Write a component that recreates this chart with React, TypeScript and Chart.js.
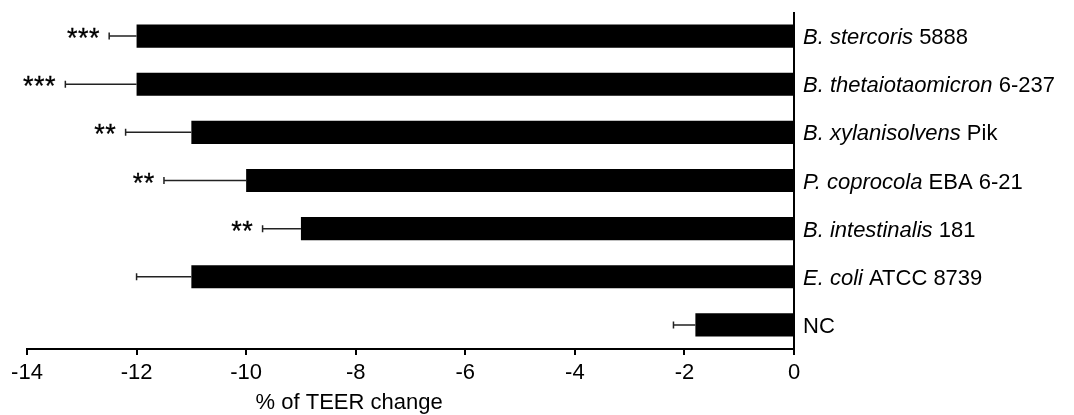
import { useEffect, useRef } from 'react';
import { Chart, registerables } from 'chart.js';

Chart.register(...registerables);

const italicNames = ['B. stercoris', 'B. thetaiotaomicron', 'B. xylanisolvens', 'P. coprocola', 'B. intestinalis', 'E. coli', ''];
const strainNames = ['5888', '6-237', 'Pik', 'EBA 6-21', '181', 'ATCC 8739', 'NC'];
const categories = italicNames.map((n, i) => (n ? n + ' ' : '') + strainNames[i]);
const teerChange = [-12.0, -12.0, -11.0, -10.0, -9.0, -11.0, -1.8];
const errorSD = [0.5, 1.3, 1.2, 1.5, 0.7, 1.0, 0.4];
const significance = ['***', '***', '**', '**', '**', '', ''];
const xMin = -14;
const xMax = 0;
const xStep = 2;
const axisTitle = '% of TEER change';

const FONT = '"Liberation Sans", Arial, sans-serif';

const overlayPlugin = {
  id: 'overlay',
  afterDatasetsDraw(chart: any) {
    const ctx = chart.ctx;
    const xs = chart.scales.x;
    const ys = chart.scales.y;
    const area = chart.chartArea;
    ctx.save();
    // vertical axis line at zero
    const x0 = xs.getPixelForValue(0);
    ctx.strokeStyle = '#000';
    ctx.lineWidth = 2;
    ctx.beginPath();
    ctx.moveTo(x0, area.top);
    ctx.lineTo(x0, area.bottom);
    ctx.stroke();

    categories.forEach((_, i) => {
      const yc = ys.getPixelForValue(i);
      const xb = xs.getPixelForValue(teerChange[i]);
      const xe = xs.getPixelForValue(teerChange[i] - errorSD[i]);
      // error bar
      ctx.strokeStyle = '#222';
      ctx.lineWidth = 1.5;
      ctx.beginPath();
      ctx.moveTo(xb, yc);
      ctx.lineTo(xe, yc);
      ctx.moveTo(xe, yc - 3.5);
      ctx.lineTo(xe, yc + 3.5);
      ctx.stroke();
      // significance stars
      const sig = significance[i];
      if (sig) {
        ctx.fillStyle = '#000';
        ctx.strokeStyle = '#000';
        ctx.lineWidth = 0.3;
        ctx.font = `27px ${FONT}`;
        ctx.textAlign = 'center';
        ctx.textBaseline = 'alphabetic';
        const n = sig.length;
        for (let k = 0; k < n; k++) {
          const cx = xe - 15 - (n - 1 - k) * 11;
          ctx.fillText('*', cx, yc + 11);
          ctx.strokeText('*', cx, yc + 11);
        }
      }
      // category labels
      ctx.fillStyle = '#000';
      ctx.textAlign = 'left';
      ctx.textBaseline = 'alphabetic';
      let tx = x0 + 9;
      const base = yc + 8;
      if (italicNames[i]) {
        ctx.font = `italic 22px ${FONT}`;
        ctx.fillText(italicNames[i], tx, base);
        tx += ctx.measureText(italicNames[i] + ' ').width;
      }
      ctx.font = `22px ${FONT}`;
      ctx.fillText(strainNames[i], tx, base);
    });

    // axis title
    ctx.font = `22px ${FONT}`;
    ctx.textAlign = 'center';
    ctx.textBaseline = 'alphabetic';
    ctx.fillStyle = '#000';
    ctx.fillText(axisTitle, area.left + (area.right - area.left) * 0.42, 409);
    ctx.restore();
  },
};

export default function App() {
  const ref = useRef<HTMLCanvasElement | null>(null);
  useEffect(() => {
    document.body.style.margin = '0';
    const chart = new Chart(ref.current as HTMLCanvasElement, {
      type: 'bar',
      data: {
        labels: categories,
        datasets: [
          {
            data: teerChange,
            backgroundColor: '#000',
            borderColor: '#000',
            borderWidth: 0,
            categoryPercentage: 1,
            barPercentage: 0.48,
          },
        ],
      },
      options: {
        indexAxis: 'y',
        animation: false,
        responsive: true,
        maintainAspectRatio: false,
        layout: { padding: { left: 27, right: 280, top: 12, bottom: 0 } },
        plugins: { legend: { display: false }, tooltip: { enabled: false } },
        scales: {
          x: {
            type: 'linear',
            min: xMin,
            max: xMax,
            ticks: { stepSize: xStep, color: '#000', font: { family: FONT, size: 22 }, padding: 5, maxRotation: 0 },
            grid: { display: true, drawOnChartArea: false, drawTicks: true, tickLength: 6, color: '#000', lineWidth: 2 },
            border: { display: true, color: '#000', width: 2 },
            afterFit: (s: any) => { s.height = 66; },
          },
          y: {
            display: false,
            offset: true,
          },
        },
      },
      plugins: [overlayPlugin],
    });
    return () => chart.destroy();
  }, []);
  return (
    <div style={{ width: 1074, height: 415, position: 'relative' }}>
      <canvas ref={ref} />
    </div>
  );
}
